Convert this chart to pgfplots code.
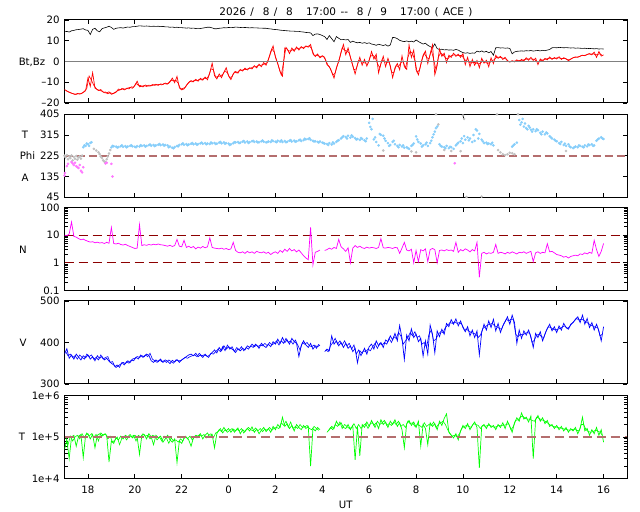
\documentclass[border=0pt]{standalone}
\usepackage{fontspec}
\setmainfont{DejaVu Sans}
\usepackage{pgfplots}
\usepackage{pgfplotstable}
\pgfplotsset{compat=1.18}
\definecolor{phiblue}{RGB}{135,206,250}
\definecolor{phigray}{RGB}{192,192,192}
\definecolor{phimag}{RGB}{255,120,255}
\definecolor{dashred}{RGB}{180,110,110}
\definecolor{dkred}{RGB}{140,0,0}
\definecolor{tgreen}{RGB}{0,255,0}
\definecolor{nmag}{RGB}{255,0,255}
\definecolor{vblue}{RGB}{0,0,255}
\definecolor{bzred}{RGB}{255,0,0}
\newcommand{\tsp}{\hspace{4.4bp}}

\pgfplotstableread{
h bt bz phi n v t
0.0 14.3 -13.5 nan 10 372 5.0e4
0.1 14.5 -14.2 nan 9.5 385 8.5e4
0.2 14.2 -14.8 nan 11 362 3.0e4
0.3 14.8 -15.3 nan 30 370 1.0e5
0.4 15.0 -15.6 nan 9 360 1.1e5
0.5 15.3 -15.8 nan 8.5 372 6.0e4
0.6 15.4 -15.5 nan 7.5 365 1.05e5
0.7 15.6 -15.6 nan 6.8 358 1.15e5
0.8 15.8 -14.9 262 7.2 368 3.2e4
0.9 15.2 -14.1 268 6.5 363 1.1e5
1.0 15.0 -8.0 275 6.0 370 1.2e5
1.1 13.0 -12.0 281 5.6 360 9.0e4
1.2 15.5 -5.4 nan 5.8 366 1.15e5
1.3 16.0 -12.8 nan 5.3 356 5.5e4
1.4 14.8 -13.6 nan 5.6 368 1.1e5
1.5 14.3 -13.9 nan 5.2 362 1.2e5
1.6 15.8 -14.3 nan 5.4 366 1.05e5
1.7 16.2 -15.0 nan 5.0 358 1.18e5
1.8 16.5 -15.2 nan 5.5 362 1.1e5
1.9 17.0 -14.6 nan 5.1 355 2.5e4
2.0 16.4 -15.8 262 19 350 8.0e4
2.1 15.5 -15.4 266 5.0 346 7.0e4
2.2 16.0 -14.8 265 4.8 340 9.5e4
2.3 16.2 -13.3 263 5.1 344 8.5e4
2.4 16.3 -13.6 266 4.6 348 1.05e5
2.5 16.1 -13.1 264 4.4 352 9.0e4
2.6 16.4 -13.4 267 4.7 349 1.1e5
2.7 16.6 -12.8 265 4.2 356 1.0e5
2.8 16.5 -12.5 268 3.9 352 1.15e5
2.9 16.8 -12.9 266 3.6 360 9.5e4
3.0 16.8 -11.6 264 3.3 362 1.1e5
3.1 17.0 -9.5 267 3.4 366 1.0e5
3.2 17.2 -12.2 265 24 364 3.8e4
3.3 17.1 -11.9 268 4.2 368 1.1e5
3.4 17.0 -11.6 270 4.5 366 1.15e5
3.5 17.1 -12.0 268 4.3 372 9.0e4
3.6 17.0 -11.4 271 4.6 369 1.2e5
3.7 16.9 -11.7 269 4.4 356 1.0e5
3.8 17.0 -11.3 272 4.7 352 6.5e4
3.9 16.9 -11.0 270 4.5 358 1.1e5
4.0 17.0 -11.5 273 4.8 354 9.5e4
4.1 16.8 -10.8 271 4.5 360 1.05e5
4.2 16.9 -11.1 274 4.4 352 7.5e4
4.3 16.7 -10.4 272 4.2 358 9.0e4
4.4 16.7 -10.9 270 4.0 355 1.1e5
4.5 16.5 -9.8 265 4.3 349 8.5e4
4.6 16.6 -8.0 260 3.9 357 7.5e4
4.7 16.4 -10.2 263 4.2 353 9.0e4
4.8 16.5 -7.2 268 7.0 359 2.4e4
4.9 16.3 -12.6 272 4.0 352 8.0e4
5.0 16.3 -13.7 275 3.8 358 7.0e4
5.1 16.2 -13.2 273 6.5 362 9.5e4
5.2 16.1 -11.5 276 3.6 366 1.0e5
5.3 16.2 -10.1 274 4.0 370 8.5e4
5.4 16.0 -9.2 277 3.5 372 6.0e4
5.5 16.1 -9.8 275 3.9 368 9.5e4
5.6 15.9 -8.6 278 3.2 374 1.1e5
5.7 16.0 -9.5 276 3.7 366 1.05e5
5.8 15.9 -8.1 279 3.4 370 1.2e5
5.9 16.1 -9.0 277 3.9 364 9.0e4
6.0 16.3 -7.5 280 3.5 372 1.1e5
6.1 16.5 -8.8 278 3.8 366 1.25e5
6.2 16.5 -5.5 276 8.0 370 1.0e5
6.3 16.2 -0.8 279 3.6 376 1.15e5
6.4 15.8 -6.8 281 3.4 382 5.5e4
6.5 15.8 -8.4 278 3.3 375 1.2e5
6.6 16.0 -6.0 282 3.2 388 1.5e5
6.7 16.1 -7.8 279 3.4 380 1.35e5
6.8 16.3 -5.2 283 3.1 392 1.7e5
6.9 16.2 -3.0 280 3.3 384 1.4e5
7.0 16.4 -6.9 278 3.0 390 1.6e5
7.1 16.3 -8.7 275 3.2 386 1.3e5
7.2 16.4 -6.0 279 5.5 382 1.55e5
7.3 16.6 -4.8 283 2.8 376 1.4e5
7.4 16.5 -5.6 285 2.4 385 1.65e5
7.5 16.4 -3.8 282 2.3 380 1.2e5
7.6 16.3 -4.6 286 2.5 386 1.5e5
7.7 16.4 -3.2 283 2.2 382 1.35e5
7.8 16.3 -4.1 287 2.6 392 1.6e5
7.9 16.2 -3.0 284 2.3 388 1.4e5
8.0 16.3 -3.6 288 2.5 396 1.75e5
8.1 16.2 -2.0 285 2.2 390 1.3e5
8.2 16.2 -3.1 287 2.6 394 1.55e5
8.3 16.1 -1.3 284 2.4 386 1.2e5
8.4 16.1 -2.5 288 2.3 398 1.45e5
8.5 16.0 -0.5 286 2.5 392 1.7e5
8.6 16.0 -1.8 283 2.2 388 1.35e5
8.7 15.8 1.0 287 2.4 396 1.6e5
8.8 15.7 4.8 285 2.0 390 1.3e5
8.9 15.5 7.5 289 2.3 402 1.8e5
9.0 15.4 2.0 286 2.5 396 1.5e5
9.1 15.3 -1.0 290 2.2 408 2.0e5
9.2 15.1 -5.0 287 2.8 398 1.7e5
9.3 15.0 -7.0 285 2.4 412 3.0e5
9.4 14.9 6.5 289 3.1 400 1.8e5
9.5 14.8 6.0 286 2.6 406 2.1e5
9.6 14.7 3.8 290 3.3 396 1.6e5
9.7 14.6 6.5 287 2.7 410 1.9e5
9.8 14.6 4.9 291 3.0 402 1.4e5
9.9 14.5 7.0 288 2.5 398 2.0e5
10.0 14.5 5.5 292 2.9 366 1.7e5
10.1 14.3 7.2 289 2.3 392 1.5e5
10.2 14.2 6.2 293 1.8 404 1.9e5
10.3 14.0 7.5 296 1.5 394 1.6e5
10.4 13.9 6.9 298 1.3 388 1.8e5
10.5 13.8 8.2 294 19 398 2.0e4
10.6 12.5 3.7 290 0.85 384 1.6e5
10.7 13.2 2.4 288 2.4 392 1.4e5
10.8 13.3 3.6 285 2.6 390 1.7e5
10.9 13.0 1.8 287 2.9 394 1.5e5
11.0 12.5 2.8 282 nan nan nan
11.1 12.0 2.0 278 2.8 378 nan
11.2 10.6 -1.5 276 3.0 384 1.3e5
11.3 12.5 -2.5 280 3.4 380 1.5e5
11.4 11.0 -5.0 274 3.1 416 1.8e5
11.5 9.5 -8.0 278 3.6 396 1.6e5
11.6 12.0 -3.0 285 3.3 404 2.4e5
11.7 11.2 0.0 292 7.0 392 1.9e5
11.8 10.5 4.5 300 3.8 400 2.2e5
11.9 10.6 8.2 310 3.2 388 1.7e5
12.0 10.4 3.3 306 2.6 398 1.6e5
12.1 10.6 6.5 312 3.5 386 2.0e5
12.2 9.2 2.0 304 1.0 392 1.5e5
12.3 9.8 -2.0 308 3.4 378 1.9e5
12.4 9.3 -6.0 302 4.2 386 2.8e4
12.5 9.0 -1.5 298 3.6 351 1.8e5
12.6 9.2 2.0 294 4.0 380 3.5e4
12.7 8.8 -1.8 298 3.5 374 2.0e5
12.8 9.1 1.0 292 3.3 386 1.7e5
12.9 8.7 -2.2 300 3.7 372 2.3e5
13.0 9.0 0.5 368 3.4 390 1.8e5
13.1 8.4 4.8 340 3.6 396 2.5e5
13.2 8.2 1.2 296 3.5 384 1.9e5
13.3 7.8 3.5 285 3.3 404 2.2e5
13.4 8.3 -5.5 270 3.6 392 1.6e5
13.5 8.0 -1.0 316 7.5 400 2.6e5
13.6 7.7 2.5 312 3.5 388 2.0e5
13.7 8.1 -2.5 290 3.4 406 2.3e5
13.8 7.4 1.5 280 3.6 402 1.7e5
13.9 8.0 -2.0 272 3.5 416 2.4e5
14.0 11.6 -7.8 285 3.3 406 2.0e5
14.1 11.5 -3.0 275 3.6 422 2.6e5
14.2 11.0 -1.0 268 3.5 404 1.8e5
14.3 10.2 -4.0 272 2.2 441 2.2e5
14.4 9.8 2.7 265 3.4 410 1.5e5
14.5 9.6 -2.5 260 5.5 359 5.5e4
14.6 9.9 -3.8 262 2.9 418 2.1e5
14.7 9.5 8.0 255 2.7 404 2.5e5
14.8 9.8 2.0 268 3.1 433 1.9e5
14.9 9.4 5.5 278 1.0 412 2.3e5
15.0 10.4 -4.0 309 2.8 420 1.7e5
15.1 9.6 -6.4 285 1.1 402 2.4e5
15.2 9.0 -1.5 278 3.0 410 6.0e4
15.3 8.4 3.0 270 2.7 367 2.0e5
15.4 8.8 5.0 275 3.2 404 1.6e5
15.5 7.8 -1.0 268 1.1 372 6.5e4
15.6 7.2 3.5 280 3.0 442 2.2e5
15.7 6.6 8.0 305 3.3 420 1.8e5
15.8 8.5 -6.4 330 3.0 375 2.1e5
15.9 6.2 -2.0 352 1.0 428 1.5e5
16.0 5.8 6.0 275 2.8 414 2.4e5
16.1 5.9 2.5 265 2.9 432 1.9e5
16.2 5.6 4.0 262 2.7 420 2.8e5
16.3 5.7 -0.5 268 3.0 446 3.6e5
16.4 5.5 3.0 258 2.8 438 1.3e5
16.5 5.6 2.0 262 2.9 455 1.1e5
16.6 5.4 4.0 255 2.6 444 9.5e4
16.7 5.8 2.5 270 5.5 457 1.2e5
16.8 5.5 3.5 282 2.4 440 8.5e4
16.9 4.8 2.0 288 3.0 452 1.4e5
17.0 4.3 3.8 280 2.7 436 1.9e5
17.1 4.0 -1.5 295 3.2 426 1.6e5
17.2 4.2 2.0 305 2.9 438 2.1e5
17.3 3.9 -2.5 300 2.5 416 1.5e5
17.4 4.1 1.0 285 3.0 430 1.9e5
17.5 4.0 -1.8 290 2.7 412 2.3e5
17.6 5.0 0.5 335 5.5 428 1.7e5
17.7 4.6 -3.0 320 0.3 370 1.8e4
17.8 5.1 1.5 295 2.2 424 1.8e5
17.9 4.5 -0.8 280 2.4 444 2.0e5
18.0 4.9 0.6 282 2.1 430 1.6e5
18.1 4.2 -2.5 278 2.3 452 2.1e5
18.2 4.8 1.8 275 2.2 436 1.7e5
18.3 3.0 -1.0 270 2.4 456 1.9e5
18.4 6.6 3.0 nan 4.6 428 1.5e5
18.5 6.7 1.5 nan 2.2 446 2.0e5
18.6 6.5 2.5 nan 2.4 424 1.7e5
18.7 6.6 1.0 nan 2.3 440 2.2e5
18.8 6.4 2.0 nan 2.1 450 1.6e5
18.9 6.5 0.2 nan 2.4 462 2.4e5
19.0 6.3 -0.3 nan 2.2 444 1.8e5
19.1 3.7 0.4 265 2.5 466 1.3e5
19.2 4.6 -0.2 275 2.3 448 2.2e5
19.3 4.9 0.8 282 2.1 398 2.9e5
19.4 5.0 0.0 380 2.4 430 2.4e5
19.5 5.1 1.0 370 2.3 410 3.8e5
19.6 5.0 0.3 352 2.5 428 2.7e5
19.7 5.2 1.8 345 2.2 418 3.0e5
19.8 5.1 0.6 355 2.4 430 2.3e5
19.9 5.3 2.0 338 2.6 414 3.2e5
20.0 5.0 0.5 340 1.1 388 3.0e4
20.1 5.2 1.6 332 2.3 422 2.6e5
20.2 5.3 -1.5 336 2.5 412 3.3e5
20.3 5.1 1.2 325 2.2 426 2.4e5
20.4 5.4 0.2 330 2.4 404 2.9e5
20.5 5.2 1.5 318 2.3 420 2.1e5
20.6 5.5 0.8 322 4.9 434 2.5e5
20.7 5.8 2.2 310 2.5 444 1.8e5
20.8 6.6 1.0 300 2.6 428 2.0e5
20.9 6.7 1.9 295 2.3 438 1.6e5
21.0 6.6 1.2 288 2.0 424 1.9e5
21.1 6.8 2.3 280 1.9 440 1.5e5
21.2 6.7 1.0 285 1.8 430 1.8e5
21.3 6.6 1.8 272 1.6 446 1.4e5
21.4 6.7 1.3 268 1.7 436 1.7e5
21.5 6.6 0.4 275 1.5 432 1.3e5
21.6 6.5 1.2 262 1.7 444 1.6e5
21.7 6.6 1.8 258 1.8 448 1.4e5
21.8 6.4 2.2 265 1.9 456 1.7e5
21.9 6.5 2.0 262 1.8 462 1.2e5
22.0 6.4 2.6 268 2.1 448 1.6e5
22.1 6.3 3.0 264 2.0 466 3.0e5
22.2 6.4 2.8 270 2.3 444 1.4e5
22.3 6.2 3.4 266 2.1 458 1.6e5
22.4 6.3 3.8 272 2.4 436 1.1e5
22.5 6.2 3.2 275 2.2 448 1.5e5
22.6 6.1 4.5 270 6.5 430 1.2e5
22.7 6.2 2.0 290 3.0 444 1.7e5
22.8 6.0 4.8 300 1.7 428 1.1e5
22.9 6.1 2.6 305 2.6 404 1.5e5
23.0 6.0 3.2 298 5.0 438 7.5e4
}\acedata

% interleaved samples (half steps) for the noisy series
\pgfplotstableread{
h bz v t
0.05 -13.9 378 1.0e5
0.15 -14.6 368 6.5e4
0.25 -15.0 372 1.05e5
0.35 -15.5 364 8.0e4
0.45 -15.9 368 1.0e5
0.55 -15.4 360 1.1e5
0.65 -15.7 370 9.0e4
0.75 -15.2 364 1.2e5
0.85 -14.4 360 9.5e4
0.95 -13.0 372 1.25e5
1.05 -7.0 366 1.05e5
1.15 -9.0 370 1.2e5
1.25 -11.5 360 1.0e5
1.35 -13.0 364 1.15e5
1.45 -14.0 358 8.0e4
1.55 -13.5 370 1.25e5
1.65 -14.8 360 1.1e5
1.75 -14.7 364 1.2e5
1.85 -15.6 366 9.0e4
1.95 -15.0 352 1.05e5
2.05 -15.5 354 7.5e4
2.15 -14.9 342 8.5e4
2.25 -14.2 346 1.0e5
2.35 -13.8 340 6.5e4
2.45 -13.0 352 9.5e4
2.55 -13.7 346 1.05e5
2.65 -12.9 354 8.5e4
2.75 -13.2 350 1.05e5
2.85 -12.2 358 1.0e5
2.95 -12.4 356 1.1e5
3.05 -10.5 364 8.0e4
3.15 -11.5 360 1.1e5
3.25 -11.6 370 1.0e5
3.35 -12.3 364 1.2e5
3.45 -11.3 370 1.05e5
3.55 -11.8 366 1.1e5
3.65 -11.9 374 9.0e4
3.75 -11.1 360 1.1e5
3.85 -11.5 356 1.05e5
3.95 -11.2 352 8.5e4
4.05 -11.0 358 1.0e5
4.15 -11.3 354 8.0e4
4.25 -10.6 356 1.05e5
4.35 -10.9 352 9.5e4
4.45 -10.2 358 7.0e4
4.55 -9.0 354 9.5e4
4.65 -9.4 350 8.0e4
4.75 -9.0 358 8.5e4
4.85 -10.5 356 7.5e4
4.95 -13.2 356 9.0e4
5.05 -13.0 360 8.0e4
5.15 -12.5 364 1.05e5
5.25 -10.8 362 9.0e4
5.35 -9.6 366 1.05e5
5.45 -9.8 368 8.5e4
5.55 -9.0 370 1.0e5
5.65 -9.3 366 9.5e4
5.75 -8.6 374 1.1e5
5.85 -8.9 368 1.05e5
5.95 -8.0 370 1.15e5
6.05 -8.3 368 9.5e4
6.15 -7.0 364 1.1e5
6.25 -3.5 374 1.2e5
6.35 -4.0 372 9.5e4
6.45 -7.6 378 1.25e5
6.55 -7.2 384 1.35e5
6.65 -7.0 378 1.6e5
6.75 -6.2 390 1.25e5
6.85 -4.5 380 1.5e5
6.95 -5.5 394 1.3e5
7.05 -7.8 384 1.45e5
7.15 -7.2 390 1.6e5
7.25 -5.0 378 1.3e5
7.35 -5.5 388 1.55e5
7.45 -4.4 382 1.4e5
7.55 -4.4 390 1.6e5
7.65 -3.8 380 1.25e5
7.75 -3.9 388 1.5e5
7.85 -3.4 384 1.7e5
7.95 -3.2 392 1.5e5
8.05 -2.6 388 1.4e5
8.15 -2.6 396 1.65e5
8.25 -2.0 390 1.4e5
8.35 -2.0 394 1.6e5
8.45 -1.5 392 1.35e5
8.55 -1.2 398 1.55e5
8.65 -0.5 392 1.45e5
8.75 2.5 400 1.7e5
8.85 6.0 394 1.45e5
8.95 4.5 398 1.65e5
9.05 0.5 404 1.7e5
9.15 -3.0 394 1.6e5
9.25 -6.5 404 2.2e5
9.35 0.0 398 1.9e5
9.45 6.8 410 2.4e5
9.55 5.2 400 1.7e5
9.65 5.0 404 2.3e5
9.75 5.8 396 1.6e5
9.85 6.0 406 1.8e5
9.95 6.2 394 1.6e5
10.05 6.5 382 2.0e5
10.15 6.7 400 1.7e5
10.25 7.0 396 1.75e5
10.35 7.2 400 1.9e5
10.45 7.6 392 1.6e5
10.55 6.0 390 1.5e5
10.65 3.0 394 1.8e5
10.75 3.0 386 1.6e5
10.85 2.6 396 1.45e5
10.95 2.2 nan nan
11.05 2.4 nan nan
11.15 0.5 382 nan
11.25 -2.0 378 1.4e5
11.35 -3.5 392 1.7e5
11.45 -6.5 400 1.5e5
11.55 -5.5 410 2.0e5
11.65 -1.5 396 1.8e5
11.75 2.0 404 2.3e5
11.85 6.5 394 1.6e5
11.95 5.5 404 2.0e5
12.05 5.0 392 1.8e5
12.15 4.0 398 1.6e5
12.25 0.0 384 1.7e5
12.35 -4.0 394 2.1e5
12.45 -3.5 372 1.6e5
12.55 0.5 382 2.0e5
12.65 0.2 368 1.6e5
12.75 -0.5 380 1.9e5
12.85 -0.8 378 2.1e5
12.95 -0.8 384 1.6e5
13.05 2.5 380 2.1e5
13.15 3.0 390 2.2e5
13.25 2.2 398 1.7e5
13.35 -1.0 386 2.4e5
13.45 -3.0 398 2.0e5
13.55 0.8 394 2.2e5
13.65 0.0 400 2.5e5
13.75 -0.5 396 1.9e5
13.85 -0.2 410 2.1e5
13.95 -5.0 400 1.9e5
14.05 -5.5 414 2.3e5
14.15 -2.0 410 2.0e5
14.25 -2.5 424 2.4e5
14.35 -0.6 416 1.8e5
14.45 0.0 396 2.0e5
14.55 -3.2 404 1.7e5
14.65 2.0 412 2.4e5
14.75 5.0 424 2.1e5
14.85 3.8 416 2.2e5
14.95 0.5 426 1.8e5
15.05 -5.2 412 2.0e5
15.15 -4.0 416 1.9e5
15.25 0.8 396 1.7e5
15.35 4.0 400 2.2e5
15.45 2.0 388 1.8e5
15.55 1.2 420 2.0e5
15.65 5.5 430 1.9e5
15.75 1.0 404 2.3e5
15.85 -4.0 408 1.7e5
15.95 2.0 420 2.0e5
16.05 4.2 426 2.2e5
16.15 3.2 424 2.4e5
16.25 1.8 436 2.0e5
16.35 1.2 442 1.5e5
16.45 2.5 448 1.2e5
16.55 3.0 446 1.05e5
16.65 3.2 450 1.1e5
16.75 3.0 446 1.0e5
16.85 2.8 448 1.2e5
16.95 3.0 444 1.6e5
17.05 1.2 432 1.8e5
17.15 0.2 432 1.9e5
17.25 -0.2 428 1.8e5
17.35 -0.8 424 1.7e5
17.45 -0.4 422 2.1e5
17.55 -0.6 420 2.0e5
17.65 -1.2 412 1.9e5
17.75 -0.8 418 1.6e5
17.85 0.4 434 1.9e5
17.95 -0.2 438 1.8e5
18.05 -1.0 442 1.9e5
18.15 -0.4 444 1.9e5
18.25 0.4 446 1.8e5
18.35 1.0 440 1.7e5
18.45 2.2 438 1.8e5
18.55 2.0 434 1.9e5
18.65 1.8 432 1.9e5
18.75 1.5 446 1.9e5
18.85 1.1 456 2.0e5
18.95 0.0 452 2.1e5
19.05 0.1 456 1.5e5
19.15 0.1 456 1.8e5
19.25 0.3 420 2.5e5
19.35 0.4 414 2.6e5
19.45 0.5 420 3.0e5
19.55 0.6 418 3.2e5
19.65 1.0 422 2.8e5
19.75 1.2 424 2.7e5
19.85 1.3 422 2.7e5
19.95 1.2 400 2.5e5
20.05 1.0 406 2.4e5
20.15 0.0 418 3.0e5
20.25 -0.2 420 2.8e5
20.35 0.7 414 2.6e5
20.45 0.8 412 2.5e5
20.55 1.2 428 2.3e5
20.65 1.5 438 2.1e5
20.75 1.6 436 1.9e5
20.85 1.4 432 1.8e5
20.95 1.6 430 1.75e5
21.05 1.8 432 1.7e5
21.15 1.6 434 1.65e5
21.25 1.4 438 1.6e5
21.35 1.5 440 1.55e5
21.45 0.9 434 1.5e5
21.55 0.8 438 1.45e5
21.65 1.5 446 1.5e5
21.75 2.0 452 1.55e5
21.85 2.1 458 1.45e5
21.95 2.3 454 1.4e5
22.05 2.8 456 2.0e5
22.15 2.9 454 2.0e5
22.25 3.1 450 1.5e5
22.35 3.6 446 1.35e5
22.45 3.5 442 1.3e5
22.55 3.8 440 1.35e5
22.65 3.2 436 1.45e5
22.75 3.4 436 1.4e5
22.85 3.7 416 1.3e5
22.95 2.9 420 1.1e5
}\acehalf

\pgfplotsset{
  panel/.style={
    scale only axis, width=562.5bp, height=83bp,
    anchor=south west,
    xmin=0, xmax=24,
    xtick={1,3,5,7,9,11,13,15,17,19,21,23},
    xticklabels={},
    tick align=inside, tick pos=both,
    major tick length=4.5bp, minor tick length=3bp,
    tick style={black, line width=0.8bp},
    axis line style={black, line width=1bp},
    tick label style={font=\fontsize{10.2}{12}\selectfont},
    yticklabel style={xshift=-1.5bp},
    xticklabel style={yshift=-4bp},
    unbounded coords=jump,
  },
  rightticks/.style={
    scale only axis, width=562.5bp, height=83bp,
    anchor=south west, xmin=0, xmax=24,
    hide x axis, axis y line*=right,
    tick align=inside, major tick length=4.5bp,
    tick style={black, line width=0.8bp},
    axis line style={black, line width=1bp, -},
    yticklabels={}, minor ytick={},
  }
}

\begin{document}
\begin{tikzpicture}
\useasboundingbox (0bp,0bp) rectangle (640bp,512bp);
\tikzset{lbl/.style={font=\fontsize{10.2}{12}\selectfont, inner sep=0pt}}

% Panel 1: Bt, Bz
\begin{axis}[panel, at={(64.5bp,409bp)}, ymin=-20, ymax=20,
  ytick={-20,-10,0,10,20},
  yticklabels={\textendash20,\textendash10,0,10,20}]
\addplot[black, line width=0.6bp] table[x=h, y=bt] {\acedata};
\addplot[bzred, line width=0.6bp] table[x=h, y=bz] {\acehalf};
\addplot[bzred, line width=0.7bp] table[x=h, y=bz] {\acedata};
\addplot[gray, line width=1.4bp] coordinates {(0,0) (24,0)};
\end{axis}

% Panel 2: Phi
\begin{axis}[panel, at={(64.5bp,314.7bp)}, ymin=45, ymax=405,
  ytick={45,135,225,315,405}, yticklabels={45,135,225,315,405}]
\addplot[only marks, mark=*, mark size=1.1bp, phigray, mark options={draw=none, fill=phigray}] coordinates {
(0.0,225)(0.05,218)(0.1,228)(0.15,210)(0.2,222)(0.25,215)(0.3,226)(0.35,205)(0.4,220)(0.45,212)(0.5,224)(0.55,208)(0.6,218)(0.65,222)(0.7,213)(0.75,226)
(1.25,255)(1.35,248)(1.45,240)(1.5,232)(1.55,222)(1.6,215)(1.65,205)(1.7,200)(1.75,198)(1.8,210)(1.85,222)(1.9,235)(1.95,250)
(15.95,361)(15.85,405)(16.2,250)(16.5,246)(16.9,245)(17.0,400)(17.05,385)(17.15,46)(17.8,48)(18.45,405)(18.5,250)(18.6,240)(18.7,232)(18.8,228)(18.9,232)(19.0,238)(19.1,236)(19.2,232)(19.35,405)(21.4,246)(14.8,244)(15.0,240)(13.6,248)};
\addplot[only marks, mark=*, mark size=1.1bp, phimag, mark options={draw=none, fill=phimag}] coordinates {
(0.0,140)(0.02,150)(0.1,180)(0.15,190)(0.3,198)(0.35,192)(0.4,185)(0.45,195)(0.5,180)(0.55,176)(0.6,172)(0.65,185)(0.7,160)(0.75,153)(0.8,175)(1.75,192)(1.8,195)(2.0,190)(2.05,135)(16.65,193)};
\addplot[only marks, mark=*, mark size=1.1bp, phiblue, mark options={draw=none, fill=phiblue}] table[x=h, y=phi] {\acedata};
\addplot[only marks, mark=*, mark size=1.1bp, phiblue, mark options={draw=none, fill=phiblue}] coordinates {
(0.85,270)(0.95,278)(1.05,268)(1.15,284)
(2.05,268)(2.25,261)(2.45,270)(2.65,262)(2.85,271)(3.05,262)(3.25,271)(3.45,265)(3.65,274)(3.85,267)(4.05,276)(4.25,269)(4.45,262)(4.65,258)(4.85,266)(5.05,279)(5.25,271)(5.45,280)(5.65,273)(5.85,282)(6.05,275)(6.25,283)(6.45,276)(6.65,285)(6.85,277)(7.05,272)(7.25,284)(7.45,280)(7.65,289)(7.85,281)(8.05,290)(8.25,283)(8.45,291)(8.65,285)(8.85,292)(9.05,284)(9.25,292)(9.45,284)(9.65,293)(9.85,286)(10.05,295)(10.25,299)(10.45,301)(10.65,287)(10.85,283)
(11.05,280)(11.25,272)(11.45,283)(11.65,290)(11.85,305)(12.05,300)(12.25,314)(12.45,296)(12.65,302)(12.85,288)(13.05,350)(13.15,385)(13.25,305)(13.45,320)(13.65,300)(13.85,268)(14.05,290)(14.25,262)(14.45,270)(14.65,258)(14.85,272)(15.05,296)(15.25,265)(15.45,282)(15.65,290)(15.75,318)(15.85,345)(16.05,268)(16.25,258)(16.45,264)(16.75,276)(16.95,300)(17.05,310)(17.25,292)(17.45,315)(17.55,340)(17.65,300)(17.85,288)(18.05,276)(18.25,282)(19.15,270)(19.45,360)(19.55,385)(19.65,365)(19.75,340)(19.85,348)(19.95,330)(20.15,340)(20.35,318)(20.55,326)(20.75,305)(20.95,290)(21.15,276)(21.35,278)(21.55,266)(21.75,262)(21.95,270)(22.15,262)(22.35,274)(22.55,268)(22.75,296)(22.95,300)};
\addplot[dashred, line width=1.6bp, dash pattern=on 8bp off 4bp] coordinates {(0,225) (24,225)};
\end{axis}

% Panel 3: N
\begin{axis}[panel, at={(64.5bp,221.5bp)}, ymode=log, ymin=0.1, ymax=100,
  ytick pos=left,
  ytick={0.1,1,10,100}, yticklabels={0.1,1,10,100},
  minor ytick={0.2,0.3,0.4,0.5,0.6,0.7,0.8,0.9,2,3,4,5,6,7,8,9,20,30,40,50,60,70,80,90}]
\addplot[dkred, line width=0.9bp, dash pattern=on 9bp off 5bp] coordinates {(0,10) (24,10)};
\addplot[dkred, line width=0.9bp, dash pattern=on 9bp off 5bp] coordinates {(0,1) (24,1)};
\addplot[nmag, line width=0.7bp] table[x=h, y=n] {\acedata};
\end{axis}
\begin{axis}[rightticks, at={(64.5bp,221.5bp)}, ymode=log, ymin=0.1, ymax=100,
  ytick={0.1,1,10,100}]
\addplot[draw=none] coordinates {(0,1)};
\end{axis}

% Panel 4: V
\begin{axis}[panel, at={(64.5bp,128bp)}, ymin=300, ymax=500,
  ytick={300,400,500}, yticklabels={300,400,500}]
\addplot[vblue, line width=0.6bp] table[x=h, y=v] {\acehalf};
\addplot[vblue, line width=0.7bp] table[x=h, y=v] {\acedata};
\end{axis}

% Panel 5: T
\begin{axis}[panel, at={(64.5bp,33.5bp)}, ymode=log, ymin=1e4, ymax=1e6,
  ytick pos=left,
  ytick={1e4,1e5,1e6}, yticklabels={1e+4,1e+5,1e+6},
  minor ytick={2e4,3e4,4e4,5e4,6e4,7e4,8e4,9e4,2e5,3e5,4e5,5e5,6e5,7e5,8e5,9e5},
  xticklabels={18,20,22,0,2,4,6,8,10,12,14,16}]
\addplot[tgreen, line width=0.6bp] table[x=h, y=t] {\acehalf};
\addplot[tgreen, line width=0.7bp] table[x=h, y=t] {\acedata};
\addplot[dashred, line width=1.8bp, dash pattern=on 9bp off 5bp] coordinates {(0,1e5) (24,1e5)};
\end{axis}
\begin{axis}[rightticks, at={(64.5bp,33.5bp)}, ymode=log, ymin=1e4, ymax=1e6,
  ytick={1e4,1e5,1e6}]
\addplot[draw=none] coordinates {(0,1e5)};
\end{axis}

% Labels
\node[lbl, font=\fontsize{10.5}{12}\selectfont] at (346bp,500bp) {2026\tsp/\tsp\tsp8\tsp/\tsp\tsp8\tsp\tsp\tsp17:00\tsp-{}-\tsp\tsp8\tsp/\tsp\tsp9\tsp\tsp\tsp17:00\tsp(\tsp ACE\tsp)};
\node[lbl] at (32bp,450bp) {Bt,Bz};
\node[lbl] at (25bp,377bp) {T};
\node[lbl] at (27.5bp,356.5bp) {Phi};
\node[lbl] at (25bp,334bp) {A};
\node[lbl] at (23bp,262bp) {N};
\node[lbl] at (23bp,169bp) {V};
\node[lbl] at (22bp,75bp) {T};
\node[lbl] at (345.75bp,7bp) {UT};
\end{tikzpicture}
\end{document}
